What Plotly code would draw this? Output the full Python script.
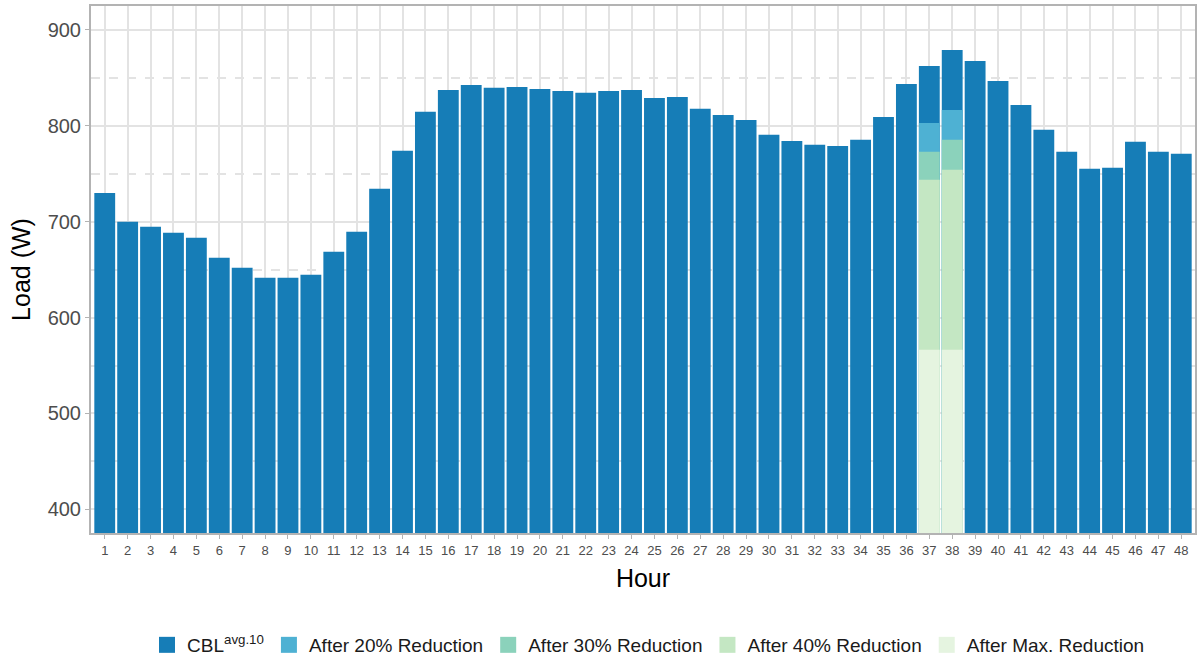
import plotly.graph_objects as go

hours = list(range(1, 49))

# Customer baseline load (average of 10 days), W
cbl = [730, 700, 694.7, 688.5, 683.3, 662.4, 652, 641.6, 641.6, 644.7,
       668.6, 689.5, 734.3, 773.9, 814.6, 837.5, 842.7, 839.6, 840.6, 838.5,
       836.4, 834.4, 836.4, 837.5, 829.1, 830.2, 817.7, 811.4, 806.2, 790.6,
       784.3, 780.2, 779.1, 785.4, 809.3, 843.7, 862.5, 879.0, 867.7, 846.8,
       821.8, 795.8, 772.9, 755.2, 756.2, 783.3, 772.9, 770.8]

# Demand-response event hours and the reduced loads
event_hours = [37, 38]
after_20 = [803.0, 816.6]
after_30 = [772.9, 785.4]
after_40 = [743.7, 754.1]
after_max = [566.5, 566.5]

series = [
    ("CBL<sup>avg.10</sup>", hours, cbl, "#167db7"),
    ("After 20% Reduction", event_hours, after_20, "#4eb1d3"),
    ("After 30% Reduction", event_hours, after_30, "#8bd2bb"),
    ("After 40% Reduction", event_hours, after_40, "#c4e7c3"),
    ("After Max. Reduction", event_hours, after_max, "#e5f4e0"),
]

fig = go.Figure()
for name, xs, ys, color in series:
    fig.add_trace(go.Bar(
        x=xs, y=ys, name=name, width=0.91, legendgroup=name, showlegend=False,
        marker=dict(color=color, line=dict(width=0)),
    ))
# legend keys drawn as larger square swatches
for name, xs, ys, color in series:
    fig.add_trace(go.Scatter(
        x=[None], y=[None], mode="markers", name=name, legendgroup=name,
        marker=dict(symbol="square", size=18, color=color),
    ))

grid = "#e3e3e3"
border = "#b3b3b3"
font = "Liberation Sans, Arial, sans-serif"

fig.update_layout(
    width=1198, height=662,
    barmode="overlay",
    paper_bgcolor="white", plot_bgcolor="white",
    margin=dict(l=91, r=3, t=6, b=129, autoexpand=False),
    font=dict(family=font, color="#4d4d4d"),
    showlegend=True,
    legend=dict(
        orientation="h", x=0.505, xanchor="center", y=-0.2125, yanchor="middle",
        font=dict(size=19, color="#1a1a1a", family=font),
        traceorder="normal", itemsizing="trace",
    ),
    xaxis=dict(
        range=[0.4, 48.6], tickmode="array", tickvals=hours,
        ticktext=[str(h) for h in hours],
        tickfont=dict(size=13, color="#4d4d4d"),
        ticks="outside", ticklen=4, tickcolor=border, tickwidth=1,
        showgrid=True, gridcolor=grid, gridwidth=1.5,
        showline=True, linecolor=border, linewidth=2, mirror=True,
        zeroline=False,
        title=dict(text="Hour", font=dict(size=25, color="#000000"), standoff=13),
    ),
    yaxis=dict(
        range=[375.3, 925], tickmode="array",
        tickvals=[400, 500, 600, 700, 800, 900],
        tickfont=dict(size=20, color="#4d4d4d"),
        ticks="outside", ticklen=4, tickcolor=border, tickwidth=1,
        showgrid=True, gridcolor=grid, gridwidth=1.5,
        minor=dict(tickvals=[450, 550, 650, 750, 850], showgrid=True,
                   gridcolor=grid, gridwidth=1.5, griddash="dash", ticks=""),
        showline=True, linecolor=border, linewidth=2, mirror=True,
        zeroline=False,
        title=dict(text="Load (W)", font=dict(size=25, color="#000000"), standoff=10),
    ),
)

fig.write_html("out.html")
